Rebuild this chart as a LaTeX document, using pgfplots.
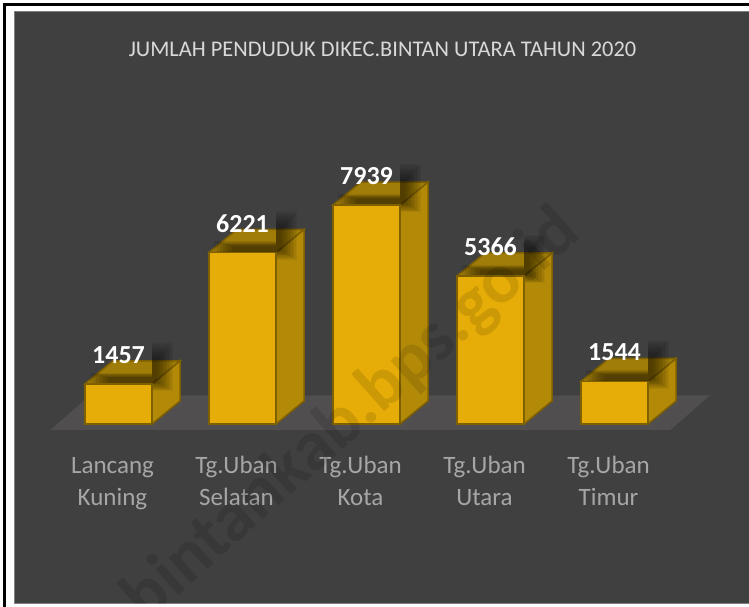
\documentclass[border=0pt]{standalone}
\usepackage{pgfplots}
\pgfplotsset{compat=1.18}
\usepackage{fontspec}
\setmainfont{Carlito}
\definecolor{panel}{HTML}{404040}
\definecolor{panelline}{HTML}{7F7F7F}
\definecolor{floorc}{HTML}{504E4E}
\definecolor{frontc}{HTML}{E6AC07}
\definecolor{edgec}{HTML}{7F6000}
\definecolor{sidec}{HTML}{B38A08}
\definecolor{topc}{HTML}{A07C08}
\definecolor{tickc}{HTML}{A6A6A6}
\definecolor{titlec}{HTML}{D9D9D9}
% depth of the boxes in axis units: 28px across, 23px up
\def\dx{0.2258}
\def\dy{834}
\def\hw{0.2702}
\newcommand{\boxfaces}[2]{%
  \addplot[fill=sidec,draw=edgec,line width=1.5pt] coordinates {(#1+\hw,0) (#1+\hw+\dx,\dy) (#1+\hw+\dx,#2+\dy) (#1+\hw,#2)} --cycle;
  \addplot[fill=topc,draw=edgec,line width=1.5pt] coordinates {(#1-\hw,#2) (#1+\hw,#2) (#1+\hw+\dx,#2+\dy) (#1-\hw+\dx,#2+\dy)} --cycle;
  % soft shadow cast by the value label: right of the label
  \foreach \k in {0,...,11} {%
    \addplot[draw=none,fill=black,fill opacity=0.05] coordinates {(#1+\hw,#2+1500-60*\k) (#1+\hw+0.17-0.012*\k,#2+1500-60*\k) (#1+\hw+0.17-0.012*\k,#2-260+30*\k) (#1+\hw,#2-260+30*\k)} --cycle;
  }%
  % and under the label, on the top face
  \foreach \k in {0,...,6} {%
    \addplot[draw=none,fill=black,fill opacity=0.085] coordinates {(#1-0.23+0.024*\k,#2+8) (#1+\hw,#2+8) (#1+\hw,#2+400-28*\k) (#1-0.23+0.024*\k,#2+400-28*\k)} --cycle;
  }%
}
\begin{document}
\begin{tikzpicture}[x=1pt,y=1pt]
\useasboundingbox (0,0) rectangle (749,607);
\fill[white] (0,0) rectangle (749,607);
\draw[black,line width=2.6pt] (4.5,-5) -- (4.5,602.5) -- (760,602.5);
\fill[panel] (14.5,3) rectangle (749,595.5);
\draw[panelline,line width=1pt] (14.5,3) -- (14.5,595.5) -- (749,595.5);
\draw[panelline,line width=1pt] (14.5,3) -- (749,3);
\begin{axis}[
  at={(0pt,183pt)},anchor=south west,
  width=749pt,height=424pt,scale only axis,
  xmin=-0.9556,xmax=5.0847,ymin=0,ymax=15373,
  clip=false,
  axis line style={draw=none},
  major tick length=0pt,
  ytick=\empty,
  xtick={0,1,2,3,4},
  xticklabels={{\strut Lancang\\Kuning},{\strut Tg.Uban\\Selatan},{\strut Tg.Uban\\Kota},{\strut Tg.Uban\\Utara},{\strut Tg.Uban\\Timur}},
  xticklabel style={align=center,font=\fontsize{25}{32}\selectfont,text=tickc,xshift=-6pt,anchor=north,yshift=-24pt},
  /pgf/number format/1000 sep={},
  /pgf/number format/assume math mode=true,
]
\addplot[draw=none,fill=floorc] coordinates {(-0.55,-220) (4.45,-220) (4.77,1040) (-0.23,1040)} --cycle;
\boxfaces{0}{1457}
\boxfaces{1}{6221}
\boxfaces{2}{7939}
\boxfaces{3}{5366}
\boxfaces{4}{1544}
\addplot[ybar,bar width=67pt,fill=frontc,draw=edgec,line width=1.5pt,
  nodes near coords,
  nodes near coords style={anchor=center,yshift=29pt,xshift=0pt,font=\fontsize{26}{26}\bfseries\selectfont,text=white,fill=none,draw=none}]
  coordinates {(0,1457) (1,6221) (2,7939) (3,5366) (4,1544)};
\end{axis}
\begin{scope}
\clip (14.5,3) rectangle (749,595.5);
\node[rotate=41.6,font=\fontsize{70.7}{70.7}\bfseries\selectfont,text=black,opacity=0.11] at (352,191) {bintankab.bps.go.id};
\end{scope}
\node[font=\fontsize{22.4}{24}\selectfont,text=titlec] at (382.5,558) {JUMLAH PENDUDUK DIKEC.BINTAN UTARA TAHUN 2020};
\end{tikzpicture}
\end{document}
